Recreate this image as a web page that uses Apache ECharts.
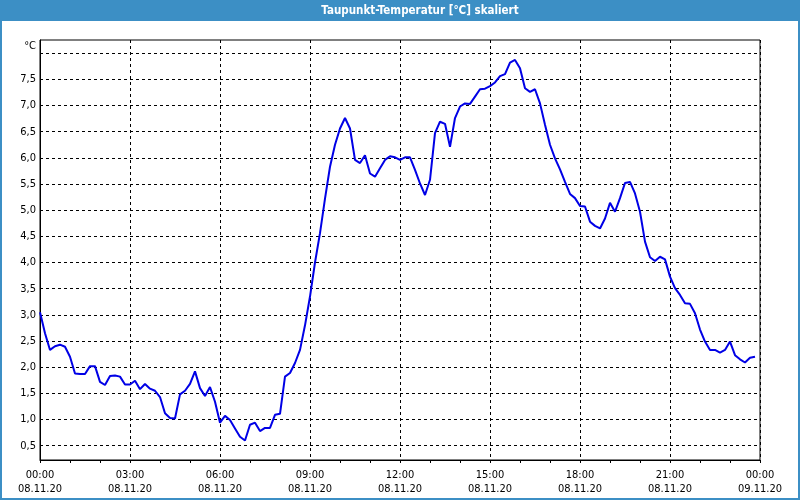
<!DOCTYPE html>
<html><head><meta charset="utf-8">
<script src="https://cdn.jsdelivr.net/npm/echarts@6/dist/echarts.min.js"></script>
<style>html,body{margin:0;padding:0;background:#fff}#c{width:800px;height:500px}</style>
</head><body><div id="c"></div>
<script>
const titleText = 'Taupunkt-Temperatur [°C] skaliert';
const unitLabel = '°C';
const stepMinutes = 10;
// dew point temperature, one value every 10 minutes starting 08.11.20 00:00
const dewPoint = [
  3.05, 2.65, 2.33, 2.40, 2.43, 2.39, 2.20, 1.88, 1.87, 1.87,
  2.02, 2.02, 1.72, 1.66, 1.83, 1.84, 1.82, 1.67, 1.67, 1.74,
  1.58, 1.68, 1.59, 1.55, 1.43, 1.12, 1.03, 1.02, 1.48, 1.55,
  1.68, 1.92, 1.60, 1.45, 1.62, 1.34, 0.94, 1.07, 0.99, 0.83,
  0.67, 0.60, 0.90, 0.94, 0.78, 0.84, 0.84, 1.09, 1.11, 1.82,
  1.89, 2.08, 2.33, 2.80, 3.35, 4.00, 4.56, 5.22, 5.83, 6.25,
  6.56, 6.76, 6.56, 5.96, 5.90, 6.05, 5.70, 5.64, 5.80, 5.96,
  6.03, 6.01, 5.96, 6.01, 6.01, 5.77, 5.51, 5.29, 5.58, 6.47,
  6.69, 6.65, 6.21, 6.76, 6.98, 7.04, 7.03, 7.17, 7.31, 7.32,
  7.37, 7.44, 7.56, 7.60, 7.82, 7.87, 7.71, 7.33, 7.26, 7.31,
  7.04, 6.63, 6.25, 5.99, 5.78, 5.54, 5.31, 5.23, 5.08, 5.07,
  4.78, 4.70, 4.65, 4.84, 5.14, 4.97, 5.23, 5.52, 5.54, 5.32,
  4.97, 4.40, 4.10, 4.03, 4.11, 4.06, 3.73, 3.51, 3.38, 3.22,
  3.21, 3.03, 2.72, 2.49, 2.33, 2.33, 2.28, 2.33, 2.49, 2.23,
  2.15, 2.09, 2.18, 2.20
];
const yLabelValues = [0.5, 1.0, 1.5, 2.0, 2.5, 3.0, 3.5, 4.0, 4.5, 5.0, 5.5, 6.0, 6.5, 7.0, 7.5];
const yGridValues = [0.5, 1.0, 1.5, 2.0, 2.5, 3.0, 3.5, 4.0, 4.5, 5.0, 5.5, 6.0, 6.5, 7.0, 7.5, 8.0];
const xTickMinutes = [0, 180, 360, 540, 720, 900, 1080, 1260, 1440];
const xTickTimes = ['00:00', '03:00', '06:00', '09:00', '12:00', '15:00', '18:00', '21:00', '00:00'];
const xTickDates = ['08.11.20', '08.11.20', '08.11.20', '08.11.20', '08.11.20', '08.11.20', '08.11.20', '08.11.20', '09.11.20'];

const FONT = "'DejaVu Sans Condensed', 'DejaVu Sans', sans-serif";
const seriesData = dewPoint.map((v, i) => [i * stepMinutes, v]);

const chart = echarts.init(document.getElementById('c'), null, {renderer: 'canvas'});
chart.setOption({
  animation: false,
  backgroundColor: '#ffffff',
  grid: {left: 40, right: 40, top: 40, bottom: 40, show: true, borderColor: '#000', borderWidth: 1, backgroundColor: 'transparent'},
  graphic: [
    {type: 'rect', shape: {x: 0, y: 0, width: 800, height: 21}, style: {fill: '#3c8fc5'}, z: 10},
    {type: 'rect', shape: {x: 1, y: 1, width: 798, height: 498}, style: {fill: 'none', stroke: '#3c8fc5', lineWidth: 2}, z: 10},
    {type: 'text', x: 420, y: 11, style: {text: titleText, fill: '#ffffff', font: 'bold 11.5px ' + FONT, textAlign: 'center', textVerticalAlign: 'middle'}, z: 11},
    {type: 'text', x: 36, y: 46, style: {text: unitLabel, fill: '#000', font: '11px ' + FONT, textAlign: 'right', textVerticalAlign: 'middle'}, z: 11}
  ],
  xAxis: {
    type: 'value', min: 0, max: 1440, interval: 180,
    axisLine: {show: true, lineStyle: {color: '#000', width: 1}},
    axisTick: {show: true, length: 3, lineStyle: {color: '#000'}},
    minorTick: {show: true, splitNumber: 3, length: 3, lineStyle: {color: '#000'}},
    splitLine: {show: true, lineStyle: {color: '#000', type: [3, 3], width: 1}},
    axisLabel: {
      margin: 8, color: '#000', fontFamily: FONT, fontSize: 11, lineHeight: 14,
      formatter: v => { const k = xTickMinutes.indexOf(v); return k < 0 ? '' : xTickTimes[k] + '\n' + xTickDates[k]; }
    }
  },
  yAxis: {
    type: 'value', min: 0.227, max: 8.251,
    axisLine: {show: true, lineStyle: {color: '#000', width: 1}},
    axisTick: {show: false, customValues: yGridValues},
    splitLine: {show: true, lineStyle: {color: '#000', type: [3, 3], width: 1}},
    axisLabel: {
      customValues: yLabelValues, margin: 4, color: '#000', fontFamily: FONT, fontSize: 11,
      formatter: v => v.toFixed(1).replace('.', ',')
    }
  },
  series: [{
    type: 'line', data: seriesData, showSymbol: false, smooth: false,
    lineStyle: {color: '#0000e6', width: 2}, itemStyle: {color: '#0000e6'}, z: 5
  }]
});
</script></body></html>
